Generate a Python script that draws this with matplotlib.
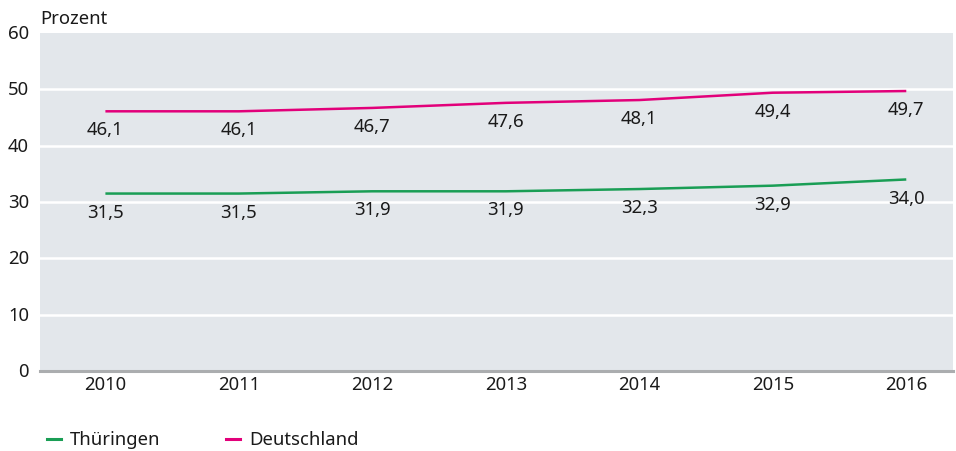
import matplotlib.pyplot as plt

years = [2010, 2011, 2012, 2013, 2014, 2015, 2016]
thueringen = [31.5, 31.5, 31.9, 31.9, 32.3, 32.9, 34.0]
deutschland = [46.1, 46.1, 46.7, 47.6, 48.1, 49.4, 49.7]

plt.rcParams['font.family'] = ['Noto Sans', 'DejaVu Sans']

green = '#1a9e55'
pink = '#e2007a'
fs = 13.3

fig = plt.figure(figsize=(9.56, 4.52), dpi=100)
ax = fig.add_axes([40 / 956, 80 / 452, 913 / 956, 338 / 452])
ax.set_facecolor('#e3e7eb')

ax.plot(years, thueringen, color=green, lw=1.8, solid_capstyle='butt')
ax.plot(years, deutschland, color=pink, lw=1.8, solid_capstyle='butt')

for x, v in zip(years, thueringen):
    ax.annotate(f'{v:.1f}'.replace('.', ','), (x, v), xytext=(0, -13), textcoords='offset points',
                ha='center', va='center', fontsize=fs, color='#1a1a1a')
for x, v in zip(years, deutschland):
    ax.annotate(f'{v:.1f}'.replace('.', ','), (x, v), xytext=(0, -13), textcoords='offset points',
                ha='center', va='center', fontsize=fs, color='#1a1a1a')

ax.set_xlim(2010 - 0.49, 2016 + 0.35)
ax.set_ylim(0, 60)
ax.set_yticks(range(0, 61, 10))
ax.set_xticks(years)
ax.set_xticklabels([str(y) for y in years])
for y in range(10, 60, 10):
    ax.axhline(y, color='white', lw=1.8, zorder=0.5)
ax.axhline(0, color='#abadaf', lw=2.2, zorder=3, clip_on=False)

for s in ax.spines.values():
    s.set_visible(False)
ax.tick_params(axis='both', length=0, labelsize=fs, colors='#1a1a1a')
ax.tick_params(axis='y', pad=8)
ax.tick_params(axis='x', pad=3)
for lbl in ax.get_yticklabels():
    lbl.set_verticalalignment('center')

fig.text(40 / 956, 1 - 19 / 452, 'Prozent', fontsize=fs, color='#1a1a1a', va='center', ha='left')

# legend
fig.add_artist(plt.Line2D([47 / 956, 61 / 956], [1 - 440 / 452] * 2, color=green, lw=2.2))
fig.text(70 / 956, 1 - 440 / 452, 'Thüringen', fontsize=fs, color='#1a1a1a', va='center')
fig.add_artist(plt.Line2D([226 / 956, 240 / 956], [1 - 440 / 452] * 2, color=pink, lw=2.2))
fig.text(249 / 956, 1 - 440 / 452, 'Deutschland', fontsize=fs, color='#1a1a1a', va='center')

fig.savefig('out.png', dpi=100)
